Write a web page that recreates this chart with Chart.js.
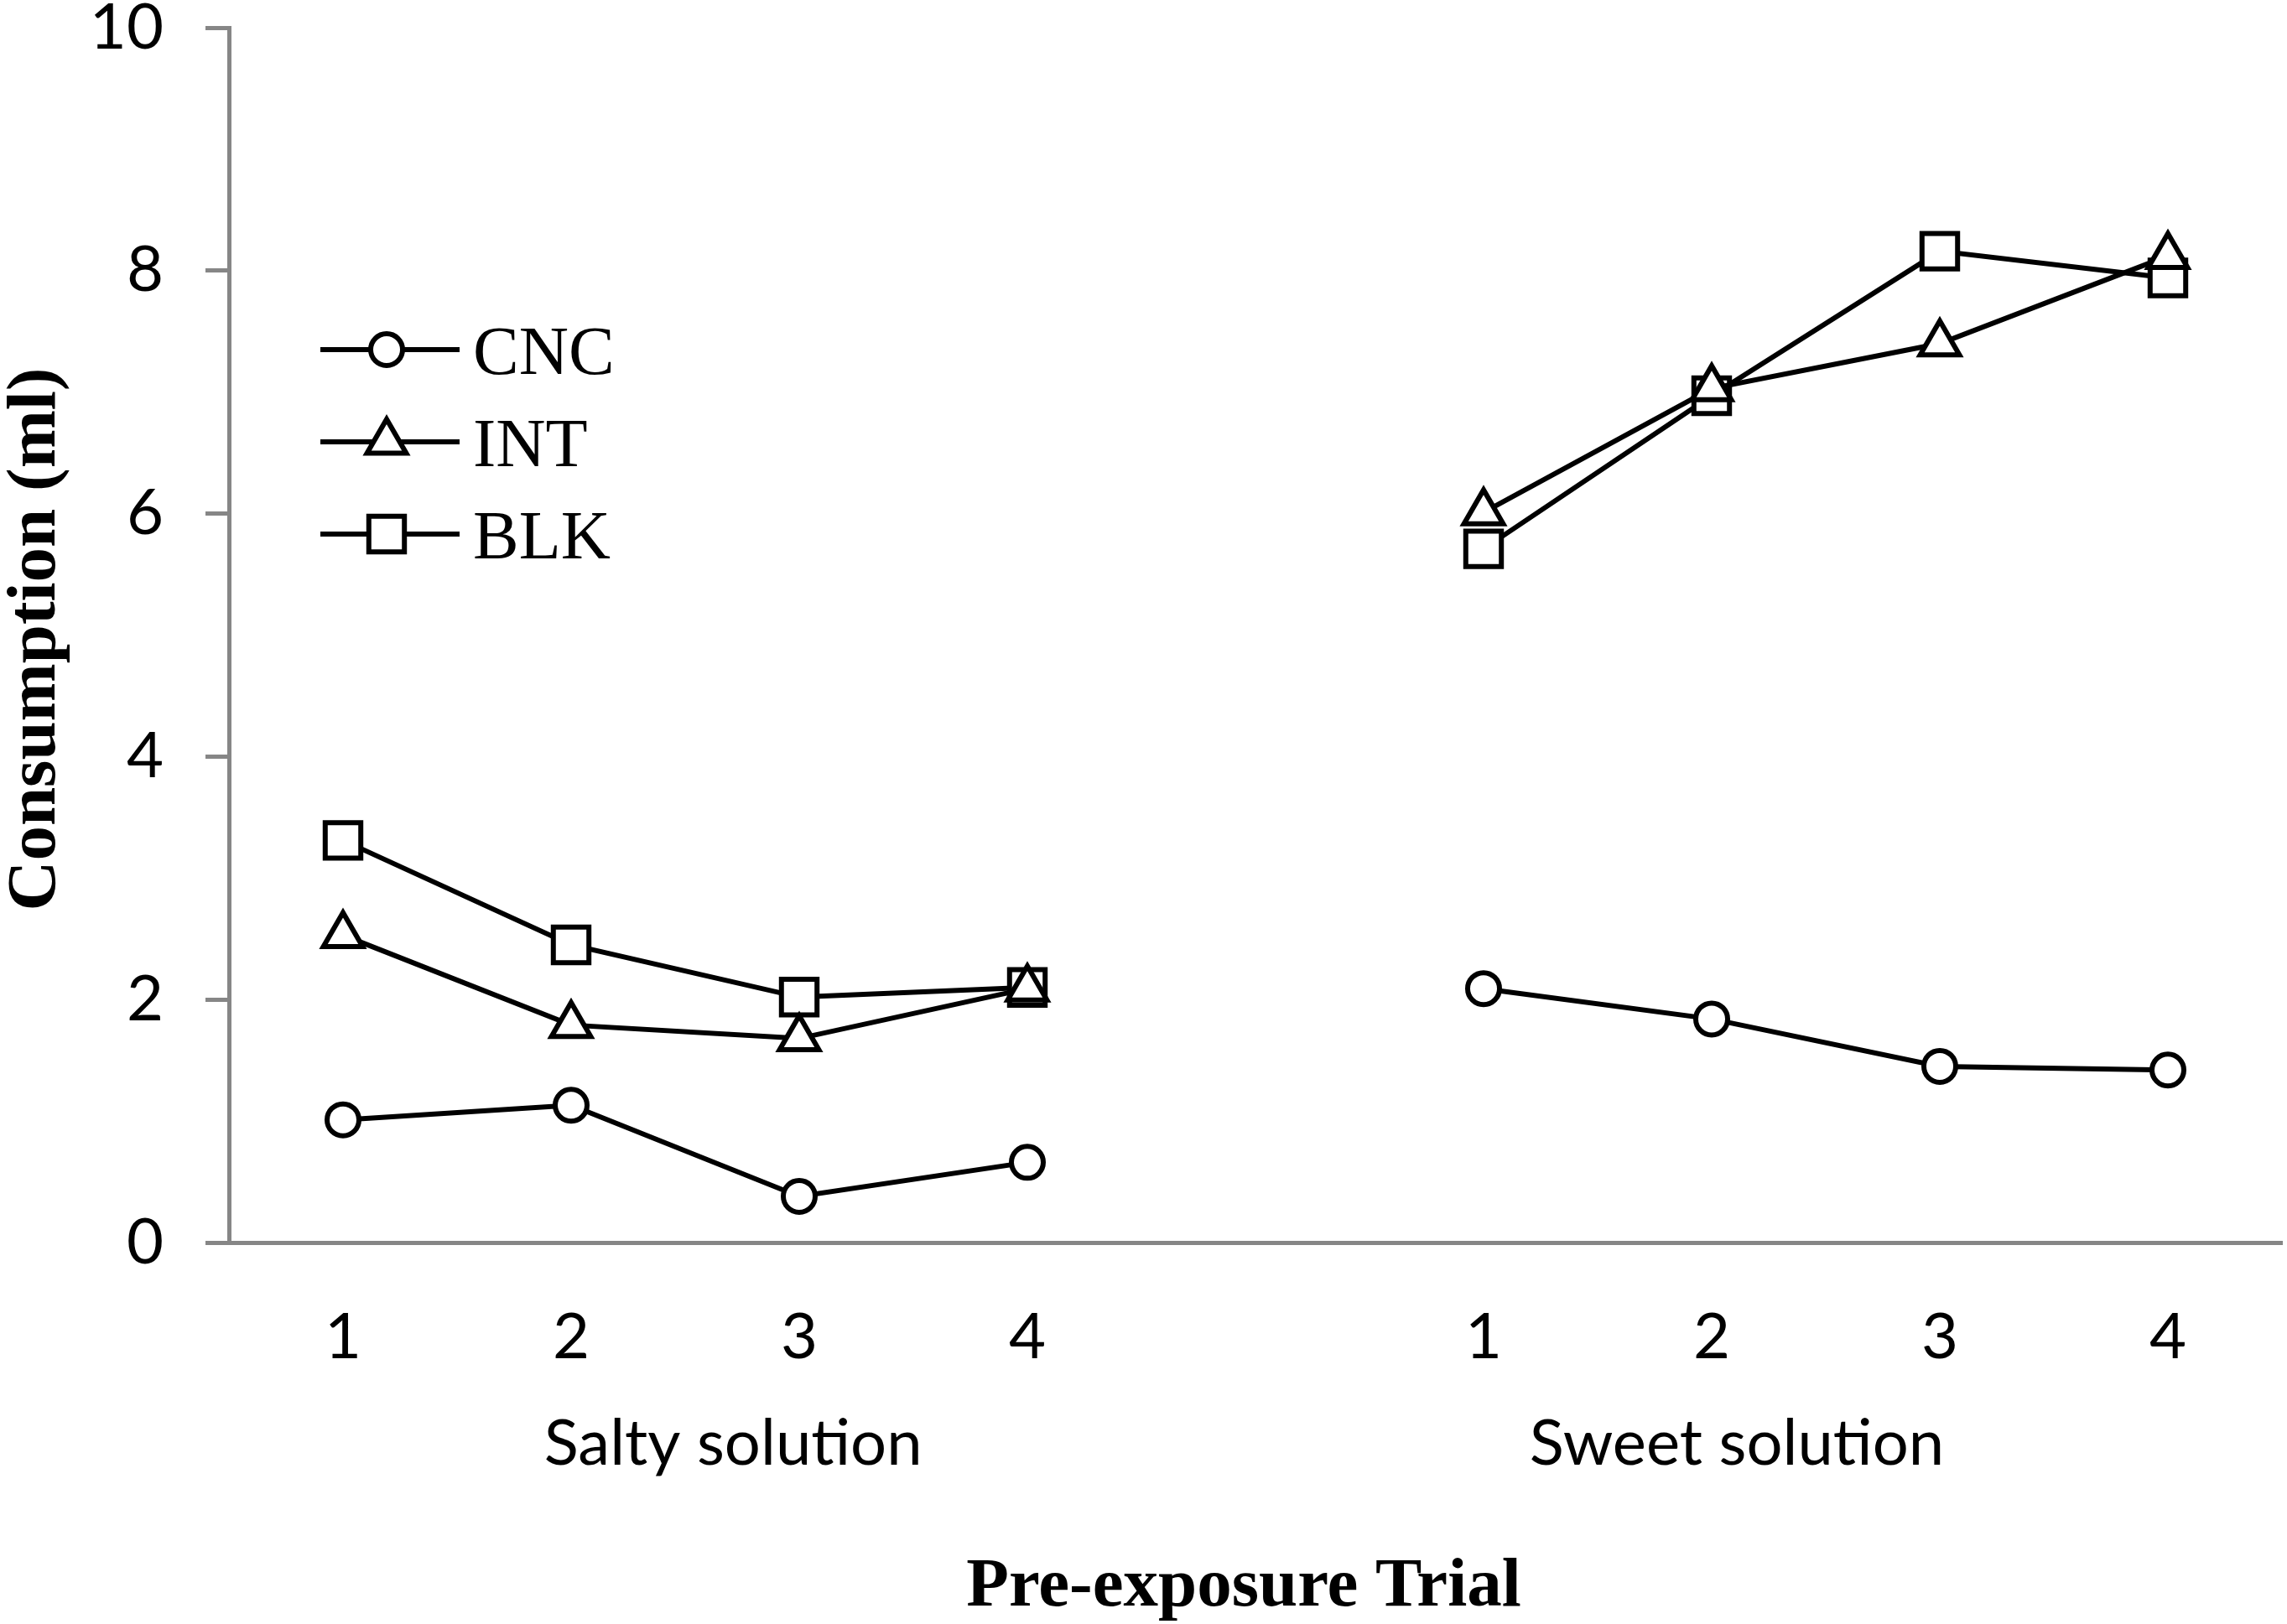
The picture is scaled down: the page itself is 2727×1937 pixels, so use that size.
<!DOCTYPE html>
<html>
<head>
<meta charset="utf-8">
<script src="https://cdn.jsdelivr.net/npm/chart.js@4.4.1/dist/chart.umd.min.js"></script>
<style>
  html, body { margin: 0; background: #fff; }
  canvas { display: block; }
</style>
</head>
<body>
<canvas id="trialChart" width="2727" height="1937"></canvas>
<script>
// Trial labels (empty slot separates the two solutions)
const trials = ["1", "2", "3", "4", "", "1", "2", "3", "4"];
const groups = ["Salty solution", "Sweet solution"];

// Consumption (ml) per group
const cncValues = [1.01, 1.13, 0.38, 0.66, null, 2.09, 1.84, 1.45, 1.42];
const intValues = [2.53, 1.79, 1.68, 2.09, null, 6.01, 7.03, 7.40, 8.12];
const blkValues = [3.31, 2.45, 2.02, 2.10, null, 5.71, 6.97, 8.16, 7.94];

const AXIS_GREY = "#868686";
const SERIF = "'Liberation Serif', 'Times New Roman', serif";
const SANS = "Lato, 'Open Sans', sans-serif";

function series(label, values, style, radius) {
    return {
        label: label,
        data: values,
        borderColor: "#000",
        borderWidth: 6,
        tension: 0,
        spanGaps: false,
        pointStyle: style,
        pointRadius: radius,
        pointHoverRadius: radius,
        pointBorderWidth: 6,
        pointBackgroundColor: "#fff",
        pointBorderColor: "#000"
    };
}

// no extra room for tick labels, the plot area is fixed
function noPadding(scale) {
    scale.paddingTop = 0;
    scale.paddingBottom = 0;
    scale.paddingLeft = 0;
    scale.paddingRight = 0;
}

// Extra texts: legend, group labels, axis titles
const extras = {
    id: "extras",
    afterDraw(chart) {
        const ctx = chart.ctx;
        const x = chart.scales.x;

        // legend
        chart.data.datasets.forEach((ds, i) => {
            const ly = 417 + i * 110;
            ctx.save();
            ctx.strokeStyle = "#000";
            ctx.lineWidth = 6;
            ctx.beginPath();
            ctx.moveTo(382, ly);
            ctx.lineTo(548, ly);
            ctx.stroke();
            ctx.fillStyle = "#fff";
            Chart.helpers.drawPoint(ctx, {
                pointStyle: ds.pointStyle,
                radius: ds.pointRadius,
                borderWidth: ds.pointBorderWidth,
                rotation: 0
            }, 461, ly);
            ctx.fillStyle = "#000";
            ctx.font = "82px " + SERIF;
            ctx.textAlign = "left";
            ctx.textBaseline = "alphabetic";
            ctx.fillText(ds.label, 564, ly + 29);
            ctx.restore();
        });

        ctx.save();
        ctx.fillStyle = "#000";
        ctx.textAlign = "center";
        ctx.textBaseline = "alphabetic";

        // group labels under the trial numbers
        ctx.font = "76px " + SANS;
        ctx.fillText(groups[0], x.getPixelForValue(1.71), 1747);
        ctx.fillText(groups[1], x.getPixelForValue(6.11), 1747);

        // axis titles
        ctx.font = "bold 83px " + SERIF;
        ctx.fillText("Pre-exposure Trial", 1483, 1915);
        ctx.translate(65, (chart.chartArea.top + chart.chartArea.bottom) / 2 + 5);
        ctx.rotate(-Math.PI / 2);
        ctx.fillText("Consumption (ml)", 0, 0);
        ctx.restore();
    }
};

const chart = new Chart(document.getElementById("trialChart"), {
    type: "line",
    data: {
        labels: trials,
        datasets: [
            series("CNC", cncValues, "circle", 19),
            series("INT", intValues, "triangle", 27),
            series("BLK", blkValues, "rect", 30)
        ]
    },
    options: {
        responsive: false,
        animation: false,
        devicePixelRatio: 1,
        layout: {
            autoPadding: false,
            padding: { left: 0, right: 6, top: 33, bottom: 0 }
        },
        plugins: {
            legend: { display: false },
            tooltip: { enabled: false }
        },
        scales: {
            x: {
                offset: true,
                grid: { display: true, drawOnChartArea: false, drawTicks: false },
                border: { color: AXIS_GREY, width: 5 },
                ticks: {
                    color: "#000",
                    font: { family: SANS, size: 76, lineHeight: 1 },
                    padding: 75,
                    maxRotation: 0,
                    autoSkip: false
                },
                afterFit(scale) {
                    scale.height = 1937 - 1482;
                    noPadding(scale);
                }
            },
            y: {
                min: 0,
                max: 10,
                grid: {
                    display: true,
                    drawOnChartArea: false,
                    drawTicks: true,
                    tickLength: 28,
                    tickWidth: 5,
                    tickColor: AXIS_GREY
                },
                border: { color: AXIS_GREY, width: 5 },
                ticks: {
                    stepSize: 2,
                    color: "#000",
                    font: { family: SANS, size: 76, lineHeight: 0.8 },
                    padding: 50
                },
                afterFit(scale) {
                    scale.width = 273;
                    noPadding(scale);
                }
            }
        }
    },
    plugins: [extras]
});
</script>
</body>
</html>
